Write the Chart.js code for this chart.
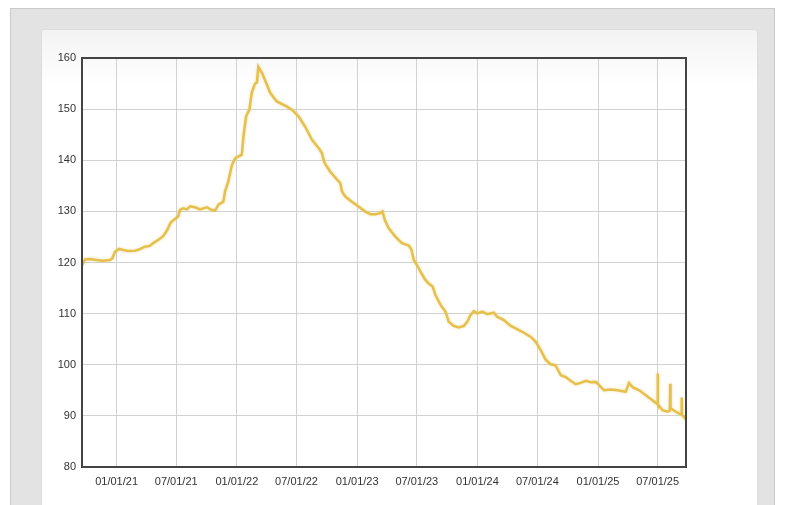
<!DOCTYPE html>
<html>
<head>
<meta charset="utf-8">
<script src="https://cdn.jsdelivr.net/npm/chart.js@4/dist/chart.umd.min.js"></script>
<style>
  html, body { margin:0; padding:0; background:#fff; width:787px; height:505px; overflow:hidden; }
  .panel { position:absolute; left:10px; top:8px; width:763px; height:520px; background:#e3e3e3; border:1px solid #cacaca; }
  .card { position:absolute; left:42px; top:30px; width:715px; height:490px; border-radius:3px 3px 0 0;
          background:linear-gradient(#f3f3f3, #fff 55px); box-shadow:0 0 2px rgba(0,0,0,0.08); }
  #chart { position:absolute; left:0; top:0; }
</style>
</head>
<body>
<div class="panel"></div>
<div class="card"></div>
<canvas id="chart" width="787" height="505"></canvas>
<script>
// values
const dates = [
  "2020-09-18","2020-09-27","2020-10-12","2020-11-01","2020-11-21","2020-12-12","2020-12-19","2020-12-27",
  "2021-01-09","2021-01-21","2021-02-05","2021-02-26","2021-03-13","2021-03-28","2021-04-12","2021-04-22",
  "2021-05-07","2021-05-23","2021-06-04","2021-06-14","2021-06-27","2021-07-07","2021-07-12","2021-07-22",
  "2021-08-02","2021-08-12","2021-08-27","2021-09-11","2021-10-02","2021-10-15","2021-10-27","2021-11-06",
  "2021-11-21","2021-11-26","2021-12-06","2021-12-17","2021-12-27",
  "2022-01-16","2022-01-21","2022-01-29","2022-02-08","2022-02-15","2022-02-25","2022-03-03","2022-03-07",
  "2022-03-18","2022-04-02","2022-04-12","2022-05-02","2022-06-02","2022-06-17","2022-07-07","2022-07-27",
  "2022-08-17","2022-09-06","2022-09-16","2022-09-24","2022-10-11","2022-11-01","2022-11-11","2022-11-16",
  "2022-11-26","2022-12-16",
  "2023-01-06","2023-01-26","2023-02-10","2023-02-25","2023-03-12","2023-03-19","2023-03-26","2023-04-07",
  "2023-04-27","2023-05-17","2023-06-07","2023-06-15","2023-06-22","2023-07-07","2023-07-12","2023-07-27",
  "2023-08-06","2023-08-18","2023-08-27","2023-09-11","2023-09-26","2023-10-06","2023-10-21","2023-11-05",
  "2023-11-21","2023-12-01","2023-12-11","2023-12-21","2023-12-31",
  "2024-01-16","2024-01-31","2024-02-20","2024-03-01","2024-03-21","2024-04-11","2024-04-26","2024-05-16",
  "2024-06-10","2024-06-26","2024-07-11","2024-07-26","2024-08-10","2024-08-25","2024-09-10","2024-09-25",
  "2024-10-10","2024-10-25","2024-11-09","2024-11-25","2024-12-10","2024-12-25",
  "2025-01-04","2025-01-19","2025-02-09","2025-03-01","2025-03-26","2025-04-05","2025-04-17","2025-05-06",
  "2025-05-26","2025-06-15","2025-06-25","2025-06-30","2025-07-01","2025-07-02","2025-07-16","2025-07-31",
  "2025-08-07","2025-08-08","2025-08-09","2025-08-25","2025-09-04","2025-09-11","2025-09-12","2025-09-13",
  "2025-09-25"
];
const values = [
  119.4,120.6,120.7,120.5,120.35,120.5,120.8,122.1,
  122.65,122.45,122.25,122.3,122.6,123.1,123.25,123.8,
  124.4,125.2,126.4,127.8,128.5,129.0,130.3,130.6,
  130.4,131.0,130.8,130.4,130.8,130.3,130.15,131.3,
  131.9,133.9,135.85,139.1,140.4,
  141.1,144.65,148.6,149.9,153.2,155.0,155.2,158.3,
  157.1,154.8,153.2,151.5,150.5,149.9,148.6,146.6,
  144.0,142.4,141.4,139.45,137.8,136.2,135.5,133.9,
  132.9,131.9,
  130.9,129.95,129.45,129.45,129.65,130.0,128.3,126.7,
  125.05,123.8,123.3,122.45,120.5,118.9,118.2,116.6,
  115.9,115.3,113.6,111.7,110.4,108.4,107.6,107.3,
  107.6,108.4,109.7,110.5,110.05,
  110.4,109.9,110.2,109.4,108.75,107.6,107.1,106.45,
  105.5,104.5,102.85,101.0,100.1,99.9,97.95,97.6,
  96.85,96.2,96.45,96.85,96.6,96.65,
  96.0,95.0,95.15,95.0,94.7,96.45,95.55,95.0,
  94.05,93.05,92.55,92.4,98.3,92.2,91.1,90.8,
  91.0,96.3,91.5,90.8,90.45,90.3,93.6,90.2,
  89.3
];
const tickLabels = ["01/01/21","07/01/21","01/01/22","07/01/22","01/01/23","07/01/23","01/01/24","07/01/24","01/01/25","07/01/25"];
const yMin = 80, yMax = 160, yStep = 10;

const toTime = s => Date.parse(s + "T00:00:00Z");
const labelTime = l => { const [m,d,y] = l.split("/").map(Number); return Date.UTC(2000+y, m-1, d); };
const pad2 = n => String(n).padStart(2,"0");
const fmt = v => { const d = new Date(v); return pad2(d.getUTCMonth()+1)+"/"+pad2(d.getUTCDate())+"/"+pad2(d.getUTCFullYear()%100); };

const FONT = { family:"'Liberation Sans', Arial, sans-serif", size:11 };
const GRID = "#d2d2d2";

const frame = {
  id:"frame",
  beforeDatasetsDraw(chart) { const c = chart.ctx; c.save(); c.shadowColor = "rgba(225,185,60,0.45)"; c.shadowBlur = 3; },
  afterDatasetsDraw(chart) { chart.ctx.restore(); },
  afterDraw(chart) {
    const { ctx, chartArea:a } = chart;
    ctx.save(); ctx.strokeStyle = "#444"; ctx.lineWidth = 2;
    ctx.strokeRect(a.left, a.top, a.right - a.left, a.bottom - a.top);
    ctx.restore();
  }
};

new Chart(document.getElementById("chart"), {
  type:"line",
  data:{ datasets:[{
    data: dates.map((d,i) => ({ x: toTime(d), y: values[i] })),
    borderColor:"#e6c04c", borderWidth:2.5, pointRadius:0, tension:0, fill:false,
  }]},
  options:{
    responsive:false, animation:false, events:[],
    layout:{ padding:{ left:42, top:58, right:101, bottom:8 } },
    plugins:{ legend:{ display:false }, tooltip:{ enabled:false } },
    scales:{
      x:{ type:"linear", min: toTime(dates[0]), max: toTime(dates[dates.length-1]),
        afterBuildTicks: s => { s.ticks = tickLabels.map(l => ({ value: labelTime(l) })); },
        afterFit: s => { s.height = 30; },
        grid:{ color:GRID, drawTicks:false }, border:{ display:false },
        ticks:{ autoSkip:false, maxRotation:0, padding:8, color:"#333", font:FONT, callback: v => fmt(v) } },
      y:{ min:yMin, max:yMax,
        afterFit: s => { s.width = 40; },
        grid:{ color:GRID, drawTicks:false }, border:{ display:false },
        ticks:{ stepSize:yStep, padding:6, color:"#333", font:FONT } },
    },
  },
  plugins:[frame],
});
</script>
</body>
</html>
